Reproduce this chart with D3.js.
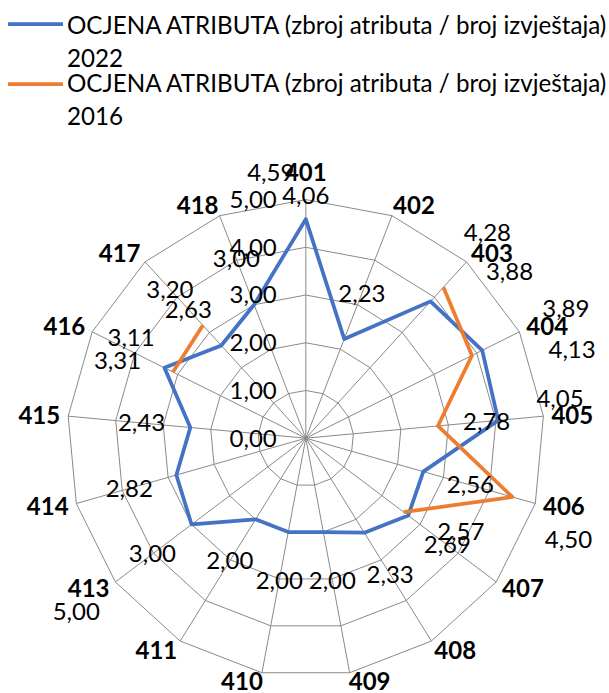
<!DOCTYPE html>
<html>
<head>
<meta charset="utf-8">
<script src="https://cdn.jsdelivr.net/npm/d3@7"></script>
<style>
  html, body { margin: 0; padding: 0; background: #fff; }
  svg { display: block; font-family: Lato, "Open Sans", sans-serif; }
</style>
</head>
<body>
<svg id="chart" width="609" height="693"></svg>
<script>
// Categories (attribute codes) around the radar
const categories = ["401","402","403","404","405","406","407","408","409","410","411","413","414","415","416","417","418"];
// Attribute scores, 2022
const values2022 = [4.59, 2.23, 3.88, 4.13, 4.05, 2.56, 2.69, 2.33, 2.00, 2.00, 2.00, 3.00, 2.82, 2.43, 3.31, 2.63, 3.00];
// Attribute scores, 2016 (null = no value for that attribute)
const values2016 = [4.06, null, 4.28, 3.89, 2.78, 4.50, 2.57, null, null, null, null, 5.00, null, null, 3.11, 3.20, null];
// Radial axis ticks
const tickValues = [0, 1, 2, 3, 4, 5];
// Legend text
const legendTitle = "OCJENA ATRIBUTA (zbroj atributa / broj izvještaja)";
const seriesYears = ["2022", "2016"];

// Hand placement of some value labels (pixel nudges on top of the default outward placement)
const labelNudge2022 = { "401": [-35, 2], "403": [46, 6], "404": [46, 21], "405": [13, -17], "416": [-3, 15] };
const labelNudge2016 = { "403": [11, -18], "404": [50, -25], "406": [9, 29], "407": [18, -10], "416": [2, -13] };
const categoryNudge = { "401": [0, -16], "409": [0, -2], "410": [0, -2] };

const colors = ["#4472C4", "#ED7D31"];
const gridColor = "#8a8a8a";
const fontSize = 24;
const legendFontSize = 24.2;

const svg = d3.select("#chart");
const cx = 305.8, cy = 438.2, outerR = 238.6;

const r = d3.scaleLinear().domain([0, 5]).range([0, outerR]);
const angle = d3.scaleLinear().domain([0, categories.length]).range([0, 2 * Math.PI]);

const px = (i, v) => cx + r(v) * Math.sin(angle(i));
const py = (i, v) => cy - r(v) * Math.cos(angle(i));
const fmt = v => d3.format(".2f")(v).replace(".", ",");

const g = svg.append("g");

// Grid rings
const ringLine = d3.lineRadial()
  .angle((d, i) => angle(i))
  .radius(d => r(d))
  .curve(d3.curveLinearClosed);

g.append("g").attr("transform", `translate(${cx},${cy})`)
  .selectAll("path.ring")
  .data(tickValues.filter(t => t > 0))
  .join("path")
  .attr("class", "ring")
  .attr("d", t => ringLine(categories.map(() => t)))
  .attr("fill", "none")
  .attr("stroke", gridColor)
  .attr("stroke-width", 1);

// Spokes
g.append("g").selectAll("line")
  .data(categories)
  .join("line")
  .attr("x1", cx).attr("y1", cy)
  .attr("x2", (d, i) => px(i, 5))
  .attr("y2", (d, i) => py(i, 5))
  .attr("stroke", gridColor)
  .attr("stroke-width", 1);

// Series lines
const pts2022 = values2022.map((v, i) => ({ i, v }));
g.append("path")
  .attr("transform", `translate(${cx},${cy})`)
  .attr("d", d3.lineRadial()
    .angle(d => angle(d.i))
    .radius(d => r(d.v))
    .curve(d3.curveLinearClosed)(pts2022))
  .attr("fill", "none")
  .attr("stroke", colors[0])
  .attr("stroke-width", 3.75)
  .attr("stroke-linejoin", "round");

const pts2016 = values2016.map((v, i) => ({ i, v }));
g.append("path")
  .attr("transform", `translate(${cx},${cy})`)
  .attr("d", d3.lineRadial()
    .angle(d => angle(d.i))
    .radius(d => r(d.v))
    .defined(d => d.v !== null)(pts2016))
  .attr("fill", "none")
  .attr("stroke", colors[1])
  .attr("stroke-width", 3.75)
  .attr("stroke-linejoin", "round");

// Radial tick labels (right-aligned left of the vertical axis)
g.append("g").selectAll("text")
  .data(tickValues)
  .join("text")
  .attr("x", cx - 29)
  .attr("y", t => cy - r(t))
  .attr("dy", "0.35em")
  .attr("text-anchor", "end")
  .attr("font-size", fontSize)
  .attr("fill", "#000")
  .text(fmt);

// Category labels
g.append("g").selectAll("text")
  .data(categories)
  .join("text")
  .each(function (d, i) {
    const a = angle(i);
    const s = Math.sin(a), c = Math.cos(a);
    const sg = Math.abs(s) < 1e-6 ? 0 : Math.sign(s);
    const n = categoryNudge[d] || [0, 0];
    const x = px(i, 5) + sg * 18 + s * 11 + n[0];
    const y = py(i, 5) - c * 11 + n[1];
    d3.select(this).attr("x", x).attr("y", y);
  })
  .attr("dy", "0.35em")
  .attr("text-anchor", "middle")
  .attr("font-size", fontSize)
  .attr("font-weight", "bold")
  .attr("fill", "#000")
  .text(d => d);

// Value labels: placed outward from each point, with a few hand nudges
function valueLabels(values, nudges) {
  const data = values.map((v, i) => ({ v, i })).filter(d => d.v !== null);
  g.append("g").selectAll("text")
    .data(data)
    .join("text")
    .attr("x", d => px(d.i, d.v) + 49 * Math.sin(angle(d.i)) + (nudges[categories[d.i]] || [0, 0])[0])
    .attr("y", d => py(d.i, d.v) - 49 * Math.cos(angle(d.i)) + (nudges[categories[d.i]] || [0, 0])[1])
    .attr("dy", "0.35em")
    .attr("text-anchor", "middle")
    .attr("font-size", fontSize)
    .attr("fill", "#000")
    .text(d => fmt(d.v));
}
valueLabels(values2022, labelNudge2022);
valueLabels(values2016, labelNudge2016);

// Legend
const legend = svg.append("g");
const legendRows = [{ y: 24, base: 34 }, { y: 84, base: 92 }];
seriesYears.forEach((yr, k) => {
  const row = legendRows[k];
  legend.append("line")
    .attr("x1", 8).attr("x2", 63)
    .attr("y1", row.y).attr("y2", row.y)
    .attr("stroke", colors[k])
    .attr("stroke-width", 3.75);
  legend.append("text")
    .attr("x", 67).attr("y", row.base)
    .attr("font-size", legendFontSize)
    .attr("fill", "#000")
    .text(legendTitle);
  legend.append("text")
    .attr("x", 67).attr("y", row.base + 32.5)
    .attr("font-size", legendFontSize)
    .attr("fill", "#000")
    .text(yr);
});
</script>
</body>
</html>
